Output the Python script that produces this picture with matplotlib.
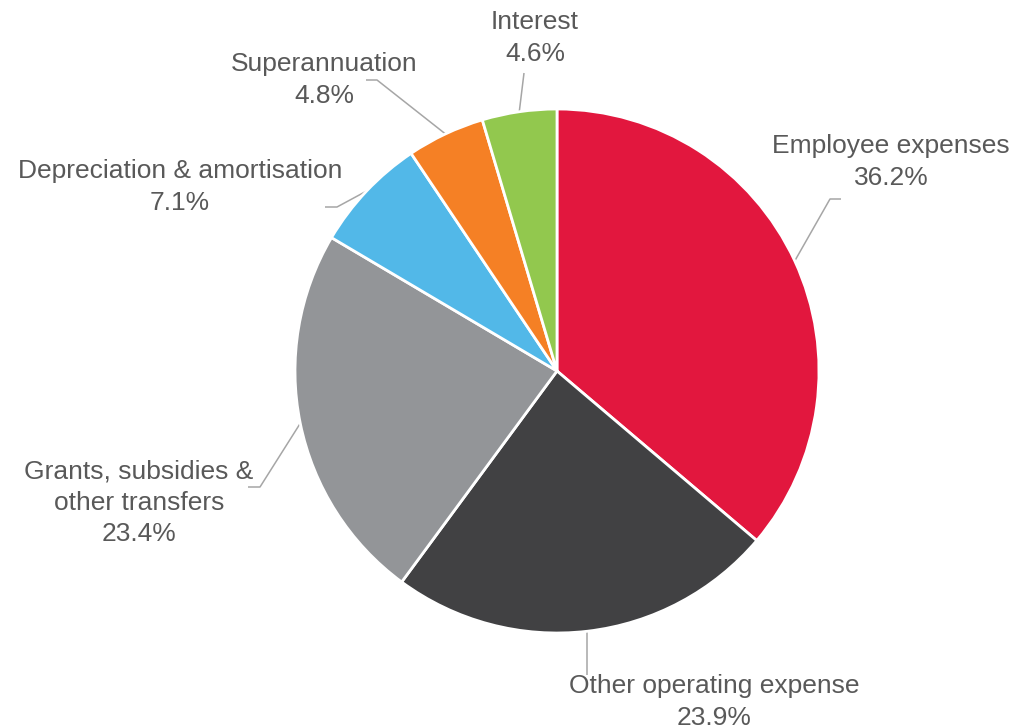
import numpy as np
import matplotlib
matplotlib.use("Agg")
import matplotlib.pyplot as plt

# Expense breakdown (share of total, %)
categories = [
    "Employee expenses",
    "Other operating expense",
    "Grants, subsidies &\nother transfers",
    "Depreciation & amortisation",
    "Superannuation",
    "Interest",
]
shares = [36.2, 23.9, 23.4, 7.1, 4.8, 4.6]
colors = ["#E2173E", "#414143", "#939598", "#52B8E8", "#F58025", "#92C84E"]

W, H = 1017, 725
fig = plt.figure(figsize=(W / 100, H / 100), dpi=100)
ax = fig.add_axes([0, 0, 1, 1])

cx, cy, r = 557, H - 371, 262
wedges, _ = ax.pie(
    shares, colors=colors, startangle=90, counterclock=False,
    center=(cx, cy), radius=r,
    wedgeprops=dict(edgecolor="white", linewidth=2.0),
)
ax.set_xlim(0, W)
ax.set_ylim(0, H)
ax.set_aspect("equal")
ax.axis("off")

# Label placement (text centre, elbow point, end of horizontal tick) in pixel units
label_pos = [(891, 162), (714, 702), (139, 503), (180, 187), (324, 80), (535, 38)]
elbows = [(830, 199), (588, 675), (260, 487), (337, 207), (377, 80), (524, 73)]
ticks = [841, None, 248, 325, 366, None]

line_col = "#A6A6A6"
text_col = "#595959"
for w, name, val, (tx, ty), (ex, ey), tk in zip(
        wedges, categories, shares, label_pos, elbows, ticks):
    mid = np.deg2rad((w.theta1 + w.theta2) / 2)
    sx, sy = cx + r * np.cos(mid), cy + r * np.sin(mid)
    if tk is None and abs(sx - ex) < 2:
        ex = sx
    xs = [sx, ex]
    ys = [sy, H - ey]
    if tk is not None:
        xs.append(tk)
        ys.append(H - ey)
    ax.plot(xs, ys, color=line_col, lw=1.1, solid_capstyle="butt", zorder=0)
    ax.text(tx, H - ty, f"{name}\n{val:.1f}%", ha="center", va="center",
            fontsize=19, color=text_col, family="Liberation Sans",
            linespacing=1.37, multialignment="center")

fig.savefig("out.png", dpi=100)
